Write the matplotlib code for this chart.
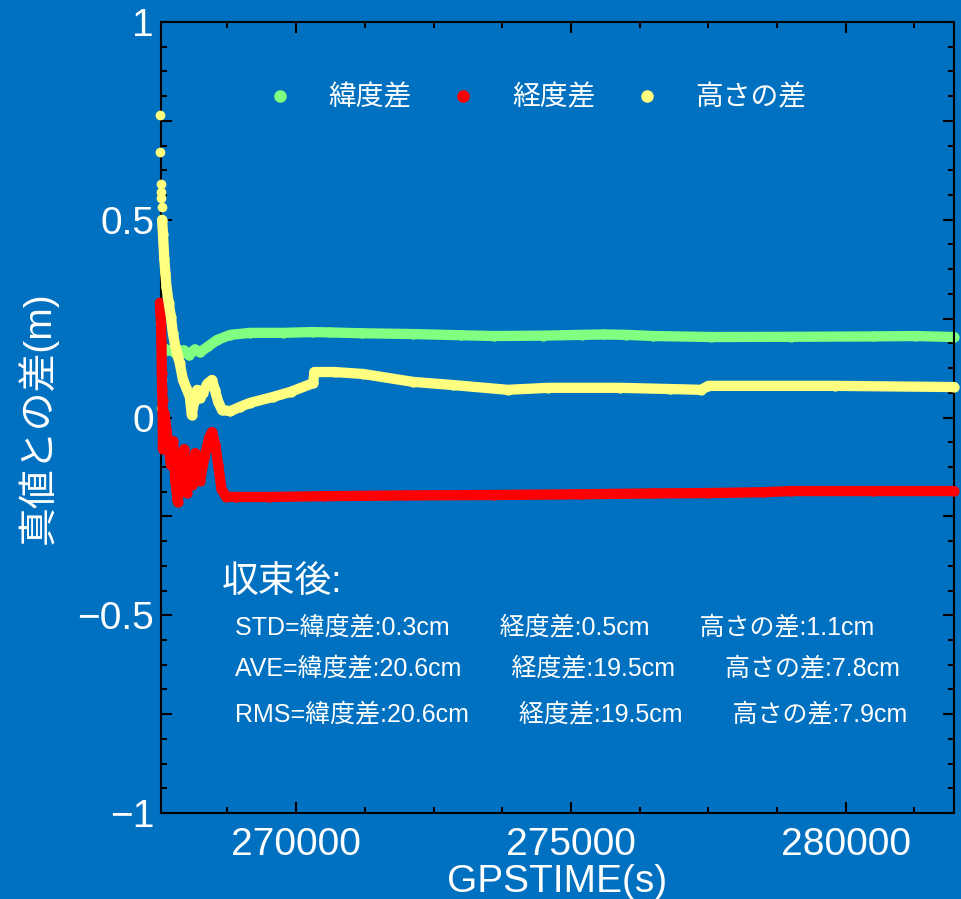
#!/usr/bin/env python3
"""
Positioning error vs. truth (lat / lon / height) over GPS time
"""

import matplotlib
matplotlib.use('Agg')
import matplotlib.pyplot as plt
from matplotlib.lines import Line2D
from matplotlib.ticker import MultipleLocator, FuncFormatter

BG = '#0070C0'
FONTS = ['Liberation Sans', 'Noto Sans CJK JP', 'DejaVu Sans']
plt.rcParams['font.family'] = FONTS

# ---- data (GPSTIME [s], error [m]) ----
# latitude error: scattered samples right after start, then the converged track
lat_early_t = [267525, 267532, 267540, 267548, 267555, 267562]
lat_early_v = [0.239, 0.024, 0.204, 0.153, 0.095, 0.180]
lat_t = [267600, 267650, 267750, 267850, 267950, 268050, 268150, 268250, 268400,
         268560, 268800, 269160, 269760, 270300, 270620, 271200, 272130, 273000,
         273600, 274500, 275200, 275600, 276000, 276500, 277550, 279000, 280500,
         281260, 281970]
lat_v = [0.175, 0.170, 0.168, 0.156, 0.170, 0.157, 0.172, 0.165, 0.180,
         0.196, 0.209, 0.214, 0.214, 0.216, 0.215, 0.213, 0.211, 0.208,
         0.206, 0.207, 0.209, 0.210, 0.209, 0.206, 0.2035, 0.204, 0.205,
         0.206, 0.2035]

# longitude error
lon_t = [267520, 267530, 267540, 267548, 267555, 267560, 267568, 267575, 267600,
         267640, 267680, 267720, 267760, 267800, 267846, 267880, 267920, 267960,
         268010, 268060, 268110, 268160, 268210, 268250, 268330, 268420, 268466,
         268530, 268580, 268640, 268720, 268900, 269500, 270500, 272000, 273600,
         275200, 276500, 277500, 278500, 279000, 280500, 281970]
lon_v = [0.290, 0.264, 0.239, 0.188, 0.112, 0.070, 0.044, -0.080, 0.011,
         -0.032, -0.075, -0.120, -0.060, -0.160, -0.214, -0.100, -0.170, -0.080,
         -0.190, -0.115, -0.170, -0.090, -0.158, -0.160, -0.100, -0.050, -0.037,
         -0.070, -0.120, -0.180, -0.200, -0.201, -0.201, -0.199, -0.197, -0.196,
         -0.194, -0.192, -0.191, -0.189, -0.186, -0.186, -0.186]

# height error
hgt_early_t = [267525, 267530, 267535, 267540, 267545, 267550]
hgt_early_v = [0.765, 0.672, 0.590, 0.570, 0.555, 0.532]
hgt_t = [267560, 267575, 267600, 267620, 267640, 267680, 267720, 267755, 267800,
         267830, 267880, 267940, 268000, 268065, 268100, 268140, 268200, 268250,
         268300, 268380, 268467, 268520, 268580, 268650, 268800, 268980, 269160,
         269580, 269900, 270310, 270330, 270700, 271220, 272130, 272860, 273850,
         274580, 275900, 276800, 277370, 277500, 279800, 281970]
hgt_v = [0.500, 0.465, 0.400, 0.365, 0.330, 0.290, 0.255, 0.214, 0.180,
         0.163, 0.138, 0.095, 0.075, 0.052, 0.006, 0.040, 0.070, 0.050,
         0.062, 0.085, 0.095, 0.070, 0.040, 0.019, 0.016, 0.027, 0.037,
         0.052, 0.065, 0.087, 0.115, 0.115, 0.110, 0.090, 0.082, 0.070,
         0.075, 0.075, 0.072, 0.070, 0.080, 0.080, 0.077]

series_names = ['緯度差', '経度差', '高さの差']
series_colors = ['#80FF80', '#FF0000', '#FFFF80']

# statistics after convergence [cm]
stat_names = ['STD', 'AVE', 'RMS']
stat_values = [[0.3, 0.5, 1.1],
               [20.6, 19.5, 7.8],
               [20.6, 19.5, 7.9]]

XLIM = (267540, 281970)


def main():
    fig = plt.figure(figsize=(9.61, 8.99), dpi=100, facecolor=BG)
    ax = fig.add_axes([161 / 961, 86 / 899, 793 / 961, 791 / 899], facecolor=BG)

    lw = 7.4
    style = dict(linestyle='-', linewidth=lw, marker='o', markersize=lw,
                 markeredgewidth=0, solid_capstyle='round',
                 solid_joinstyle='round', clip_on=False)
    dots = dict(linestyle='none', marker='o', markersize=7, markeredgewidth=0,
                clip_on=False)

    ax.plot(lat_early_t, lat_early_v, color=series_colors[0], zorder=2, **dots)
    ax.plot(lat_t, lat_v, color=series_colors[0], zorder=2, **style)
    ax.plot(lon_t, lon_v, color=series_colors[1], zorder=3, **style)
    ax.plot(hgt_early_t, hgt_early_v, color=series_colors[2], zorder=4, **dots)
    ax.plot(hgt_t, hgt_v, color=series_colors[2], zorder=4, **style)

    ax.set_xlim(*XLIM)
    ax.set_ylim(-1, 1)

    # ticks: inward, on all four sides
    ax.xaxis.set_major_locator(MultipleLocator(5000))
    ax.xaxis.set_minor_locator(MultipleLocator(1250))
    ax.yaxis.set_major_locator(MultipleLocator(0.25))
    ax.yaxis.set_minor_locator(MultipleLocator(0.0625))
    ax.yaxis.set_major_formatter(FuncFormatter(
        lambda v, p: ('%g' % v).replace('-', '\u2212') if abs(v * 2 - round(v * 2)) < 1e-9 else ''))
    ax.tick_params(which='both', direction='in', top=True, right=True,
                   colors='black', labelcolor='white', labelsize=28, width=1.5)
    ax.tick_params(which='major', length=8)
    ax.tick_params(which='minor', length=4.5)
    ax.tick_params(axis='x', pad=10)
    ax.tick_params(axis='y', pad=5)
    for sp in ax.spines.values():
        sp.set_linewidth(1.5)
        sp.set_color('black')

    ax.set_xlabel('GPSTIME(s)', color='white', fontsize=28, labelpad=0.5)
    ax.set_ylabel('真値との差(m)', color='white', fontsize=28, labelpad=14)

    handles = [Line2D([0], [0], linestyle='none', marker='o', markersize=9,
                      markeredgewidth=0, color=c) for c in series_colors]
    leg = ax.legend(handles, series_names, loc='upper center', ncol=3,
                    bbox_to_anchor=(0.473, 0.952), frameon=False, fontsize=20,
                    handlelength=1.0, handletextpad=1.26, columnspacing=1.35)
    for t in leg.get_texts():
        t.set_color('white')

    # summary of the converged part
    ax.text(0.077, 0.291, '収束後:', transform=ax.transAxes, color='white',
            fontsize=26.5, va='center', ha='left')
    rows_y = [0.235, 0.183, 0.125]
    gap = '\u3000\u3000'
    for name, vals, y in zip(stat_names, stat_values, rows_y):
        parts = ['%s:%.1fcm' % (n, v) for n, v in zip(series_names, vals)]
        line = name + '=' + gap.join(parts)
        ax.text((235 - 161) / 793, y, line, transform=ax.transAxes,
                color='white', fontsize=18, va='center', ha='left')

    fig.savefig('out.png', dpi=100, facecolor=BG)
    plt.close(fig)


if __name__ == '__main__':
    main()
